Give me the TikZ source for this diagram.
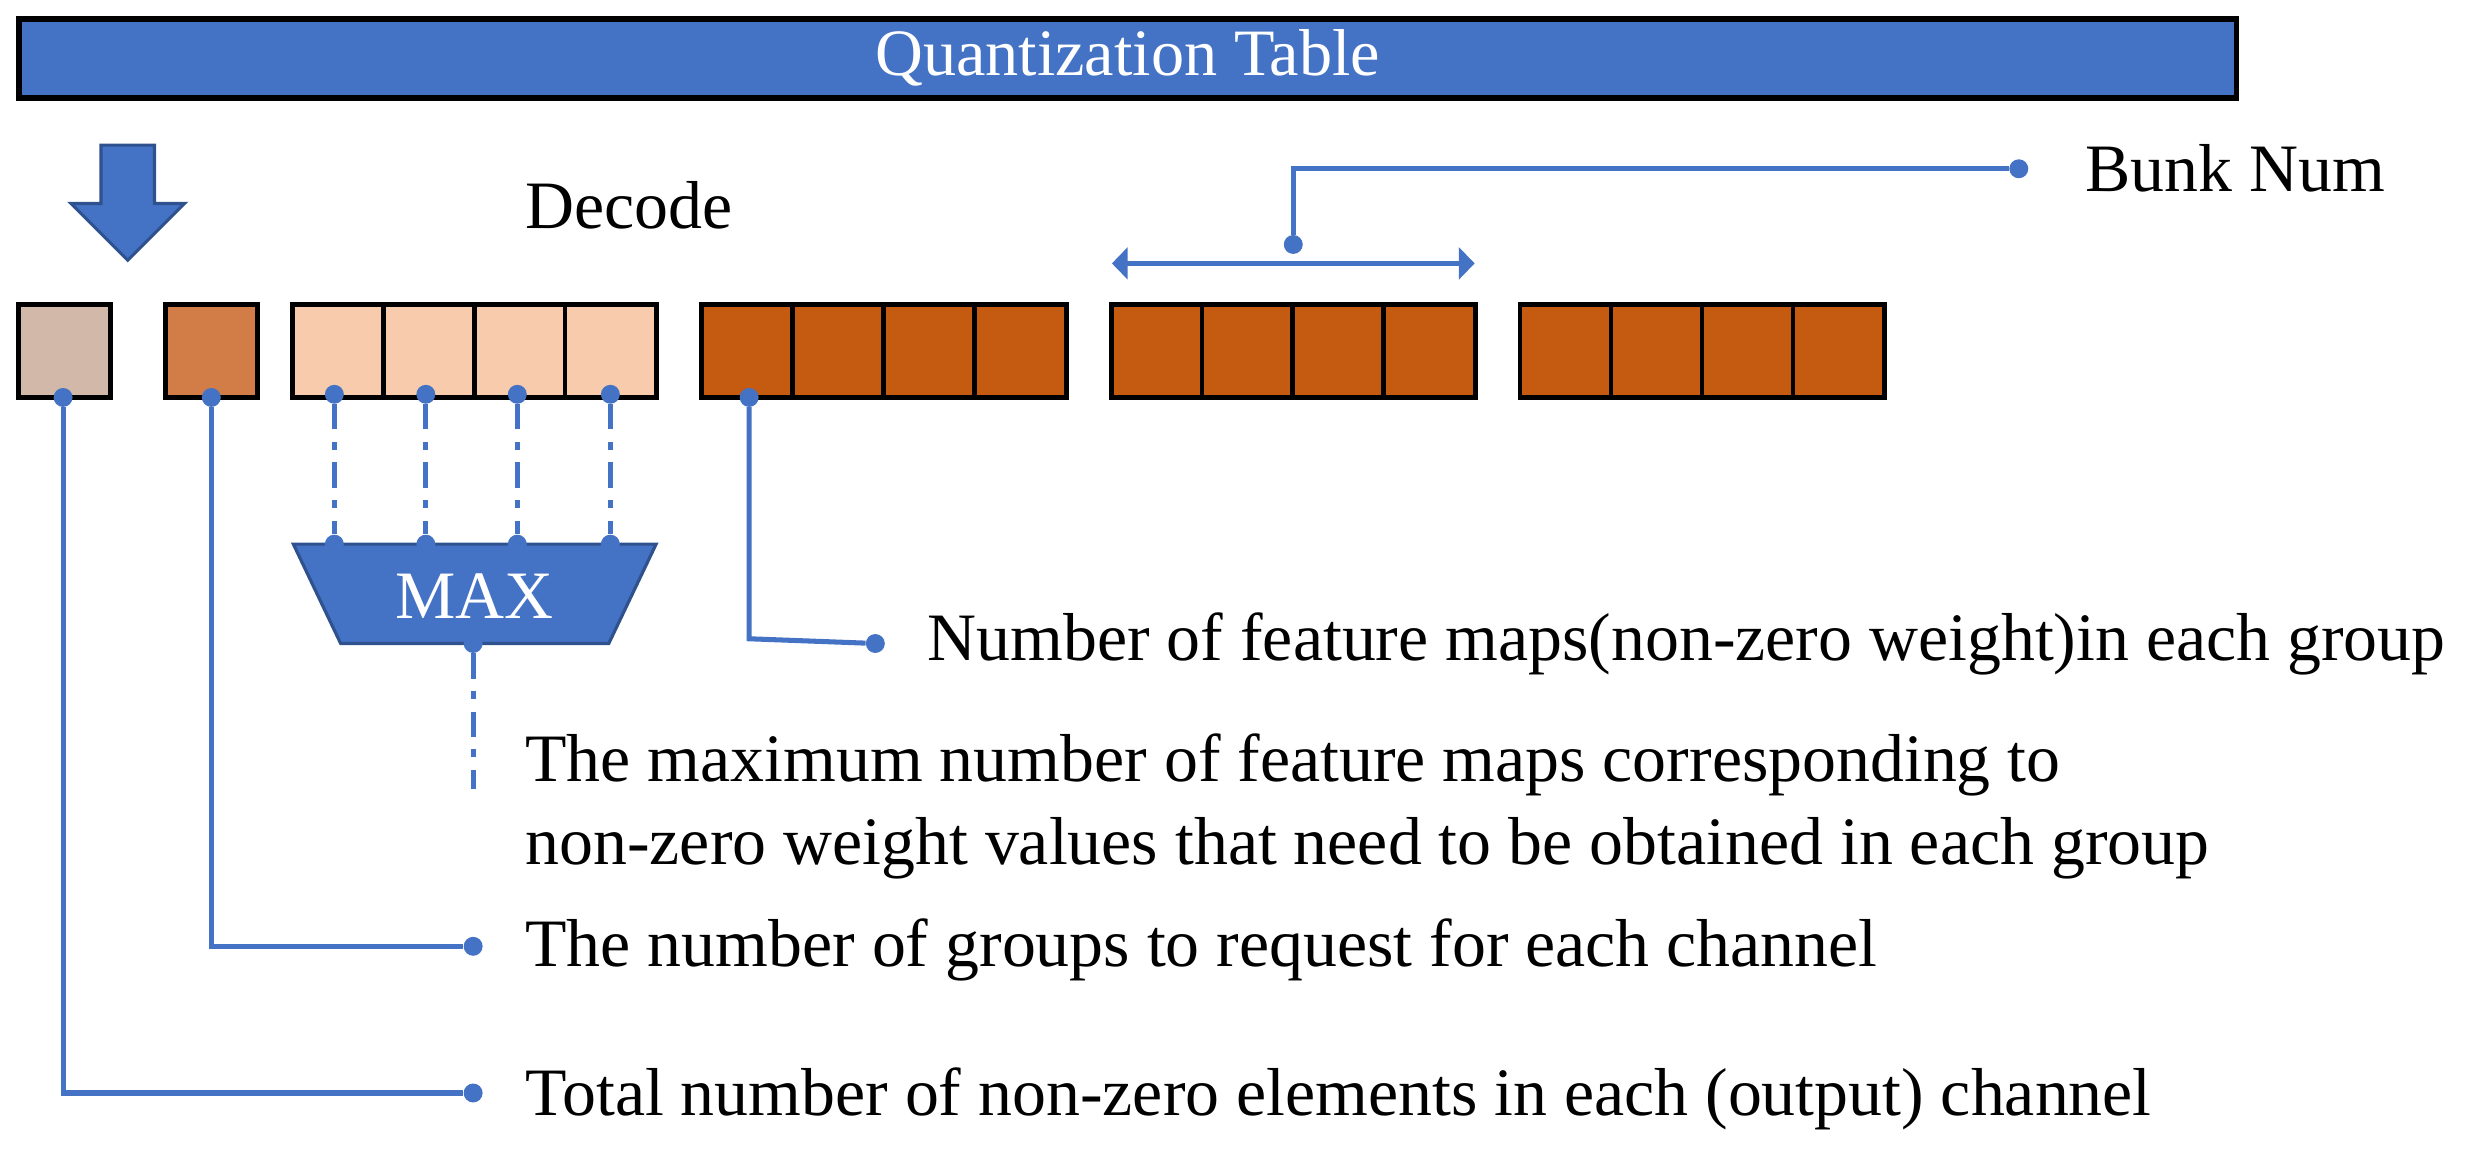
\documentclass[tikz,border=0pt]{standalone}
\usepackage{fontspec}
\setmainfont{Liberation Serif}
\usetikzlibrary{arrows.meta}
\begin{document}
\begin{tikzpicture}[x=1pt,y=-1pt,
  lbl/.style={anchor=west,font=\fontsize{43}{50}\selectfont,inner sep=0pt},
  cellA/.style={draw=black,line width=3pt,fill=#1,minimum width=58.2pt,minimum height=59pt,inner sep=0pt},
  con/.style={draw=myblue,line width=3.2pt},
  dd/.style={draw=myblue,line width=3.2pt,dash pattern=on 16pt off 8pt on 5pt off 8pt},
  dot/.style={circle,fill=myblue,inner sep=0pt,minimum size=12pt}]
\definecolor{myblue}{HTML}{4472C4}
\definecolor{dblue}{HTML}{2F528F}
\definecolor{tan}{HTML}{D2B8A8}
\definecolor{mid}{HTML}{D27D47}
\definecolor{light}{HTML}{F8CBAD}
\definecolor{dark}{HTML}{C55A11}
\useasboundingbox (0,0) rectangle (1568,732);
\node[draw=black,line width=3.5pt,fill=myblue,minimum width=1406pt,minimum height=50pt,inner sep=0pt,text=white,font=\fontsize{42}{48}\selectfont] (qt) at (715,37) {Quantization Table};
\draw[fill=myblue,draw=dblue,line width=2pt] (64,92) -- (98,92) -- (98,129) -- (117,129) -- (81,165) -- (45,129) -- (64,129) -- cycle;
\node[lbl] (dec) at (333,130) {Decode};
\node[cellA=tan] (b1) at (41,222.5) {};
\node[cellA=mid] (b2) at (134,222.5) {};
\foreach \i in {1,...,4}{
  \node[cellA=light] (l\i) at ({186+57.5*(\i-0.5)},222.5) {};
  \node[cellA=dark] (p\i) at ({445+57.7*(\i-0.5)},222.5) {};
  \node[cellA=dark] (q\i) at ({705+57.5*(\i-0.5)},222.5) {};
  \node[cellA=dark] (r\i) at ({964+57.7*(\i-0.5)},222.5) {};
}
% Bunk num
\coordinate (qa) at (705,167); \coordinate (qb) at (935,167);
\draw[con,{Triangle[width=20pt,length=10pt]}-{Triangle[width=20pt,length=10pt]}] (qa) -- (qb);
\node[dot] (bd) at (820,155) {};
\node[dot] (bd2) at (1280,107) {};
\draw[con] (bd) |- (bd2);
\node[lbl] (bn) at (1322,107) {Bunk Num};
% MAX
\path[fill=myblue,draw=dblue,line width=2pt] (186,345) -- (416,345) -- (386,408) -- (216,408) -- cycle;
\node[text=white,font=\fontsize{43}{50}\selectfont] (max) at (301,378) {MAX};
\foreach \i/\x in {1/212,2/270,3/328,4/387}{
  \node[dot] (t\i) at (\x,250) {};
  \node[dot] (m\i) at (\x,345) {};
  \draw[dd] (t\i) -- (m\i);
}
\node[dot] (mo) at (300,408) {};
\coordinate (me) at (300,500);
\draw[dd] (mo) -- (me);
\node[lbl] (t1) at (333,485) {The maximum number of feature maps corresponding to};
\node[lbl] (t1b) at (333,538) {non-zero weight values that need to be obtained in each group};
% group
\node[dot] (pd) at (475,252) {};
\node[dot] (pe) at (555,408) {};
\draw[con] (pd) -- (475,405) -- (pe);
\node[lbl] (t2) at (588,408) {Number of feature maps(non-zero weight)in each group};
\node[dot] (b2d) at (134,252) {};
\node[dot] (b2e) at (300,600) {};
\draw[con] (b2d) |- (b2e);
\node[lbl] (t3) at (333,602) {The number of groups to request for each channel};
\node[dot] (b1d) at (40,252) {};
\node[dot] (b1e) at (300,693) {};
\draw[con] (b1d) |- (b1e);
\node[lbl] (t4) at (333,697) {Total number of non-zero elements in each (output) channel};
\end{tikzpicture}
\end{document}
